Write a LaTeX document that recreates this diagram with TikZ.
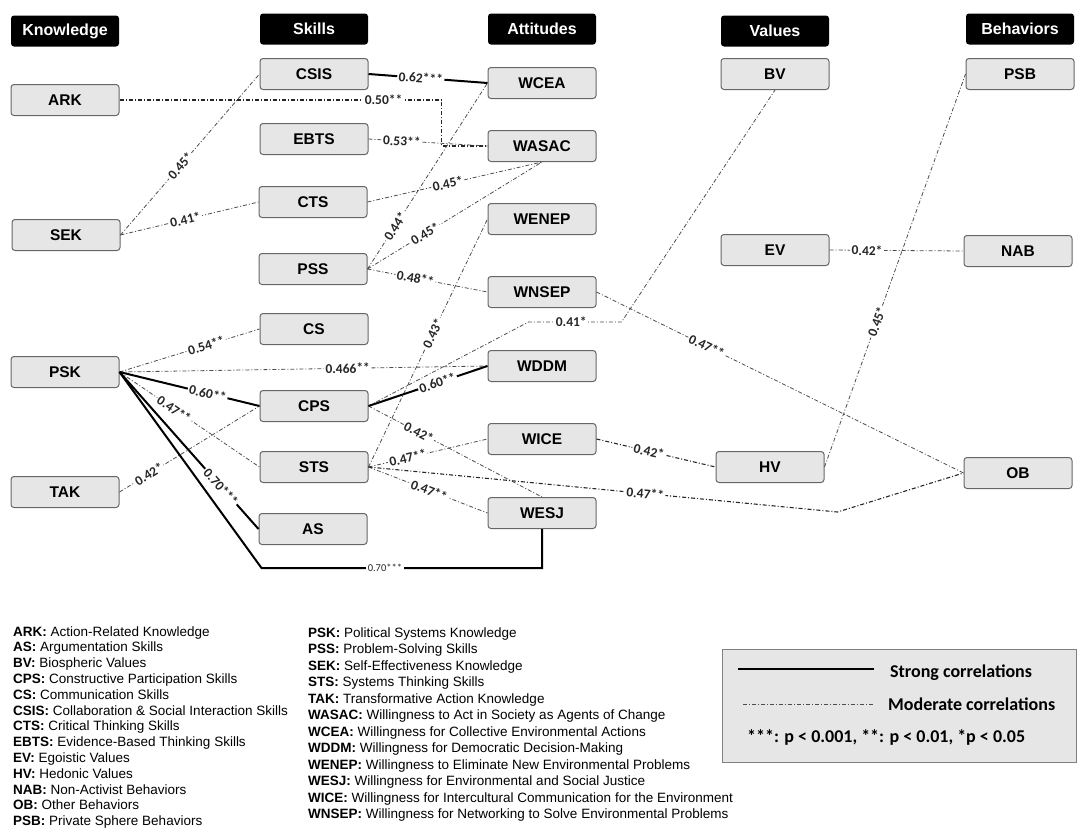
\documentclass[tikz,border=0pt]{standalone}
\usepackage{fontspec}
\setmainfont{Liberation Sans}
\newfontfamily\calib{Carlito}
\usepackage{xcolor}
\definecolor{boxgray}{HTML}{E6E6E6}

\begin{document}
\begin{tikzpicture}[
x=1pt,y=-1pt,
hdr/.style={rectangle, rounded corners=3pt, fill=black, text=white, minimum width=108pt, minimum height=31pt, font=\bfseries\fontsize{16}{18}\selectfont},
var/.style={rectangle, rounded corners=3pt, draw=gray!80!black, fill=boxgray, line width=1pt, minimum width=108pt, minimum height=31pt, font=\bfseries\fontsize{15.5}{17}\selectfont},
strong/.style={line width=2pt, black},
moderate/.style={line width=0.8pt, gray!60!black, dash pattern=on 4pt off 2pt on 1pt off 2pt},
modbold/.style={moderate, line width=1.1pt, gray!30!black},
corr/.style={font=\calib\bfseries\fontsize{13.5}{15}\selectfont, text=black!85, fill=white, inner sep=1.5pt, sloped},
gloss/.style={anchor=base west, inner sep=0pt, font=\fontsize{13.5}{15}\selectfont},
keytext/.style={anchor=base west, inner sep=0pt, font=\calib\bfseries\fontsize{18}{20}\selectfont},
]
\useasboundingbox (0,0) rectangle (1078,836);

%group headers
\node(hK)[hdr] at (65,31){Knowledge};
\node(hS)[hdr] at (314,29){Skills};
\node(hA)[hdr] at (542,29){Attitudes};
\node(hV)[hdr] at (775,31){Values};
\node(hB)[hdr] at (1020,29){Behaviors};

%knowledge
\node(ARK)[var] at (65,100){ARK};
\node(SEK)[var] at (66,235){SEK};
\node(PSK)[var] at (65,372){PSK};
\node(TAK)[var] at (65,492){TAK};
%skills
\node(CSIS)[var] at (314,74){CSIS};
\node(EBTS)[var] at (314,139){EBTS};
\node(CTS)[var]  at (313,202){CTS};
\node(PSS)[var]  at (313,269){PSS};
\node(CS)[var]   at (314,329){CS};
\node(CPS)[var]  at (314,406){CPS};
\node(STS)[var]  at (314,467){STS};
\node(AS)[var]   at (313,529){AS};
%attitudes
\node(WCEA)[var]  at (542,83){WCEA};
\node(WASAC)[var] at (542,146){WASAC};
\node(WENEP)[var] at (542,219){WENEP};
\node(WNSEP)[var] at (542,292){WNSEP};
\node(WDDM)[var]  at (542,366){WDDM};
\node(WICE)[var]  at (542,439){WICE};
\node(WESJ)[var]  at (542,513){WESJ};
%values
\node(BV)[var] at (775,74){BV};
\node(EV)[var] at (775,250){EV};
\node(HV)[var] at (770,467){HV};
%behaviors
\node(PSB)[var] at (1020,74){PSB};
\node(NAB)[var] at (1018,251){NAB};
\node(OB)[var]  at (1018,473){OB};

%moderate correlations
\draw[modbold] (ARK.east) -- node[corr,pos=0.82]{0.50**} ++(322,0) |- (WASAC.west);
\draw[moderate] (EBTS.east) -- node[corr,pos=0.28]{0.53**} (WASAC.west);
\draw[moderate] (SEK.east) -- node[corr,pos=0.43]{0.45*} (CSIS.west);
\draw[moderate] (SEK.east) -- node[corr,pos=0.47]{0.41*} (CTS.west);
\draw[moderate] (CTS.east) -- node[corr,pos=0.46]{0.45*} (WASAC.south);
\draw[moderate] (PSS.east) -- node[corr,pos=0.33]{0.45*} (WASAC.south);
\draw[moderate] (PSS.east) -- node[corr,pos=0.23]{0.44*} (WCEA.west);
\draw[moderate] (PSS.east) -- node[corr,pos=0.40]{0.48**} (WNSEP.west);
\draw[moderate] (STS.east) -- node[corr,pos=0.54]{0.43*} (WENEP.west);
\draw[moderate] (PSK.east) -- node[corr,pos=0.62]{0.54**} (CS.west);
\draw[moderate] (PSK.east) -- node[corr,pos=0.62]{0.466**} (WDDM.west);
\draw[moderate] (PSK.east) -- node[corr,pos=0.39]{0.47**} (STS.west);
\draw[moderate] (TAK.east) -- node[corr,pos=0.21]{0.42*} (CPS.west);
\draw[moderate] (CPS.east) -- ++(160,-84) -- node[corr,pos=0.46]{0.41*} ++(93,0) -- (BV.south);
\draw[moderate] (CPS.east) -- node[corr,pos=0.29]{0.42*} (WESJ.north);
\draw[moderate] (STS.east) -- node[corr,pos=0.33]{0.47**} (WICE.west);
\draw[moderate] (STS.east) -- node[corr,pos=0.51]{0.47**} (WESJ.west);
\draw[modbold] (STS.east) -- node[corr,pos=0.59]{0.47**} ++(469,45) -- (OB.west);
\draw[modbold] (WICE.east) -- node[corr,pos=0.44]{0.42*} (HV.west);
\draw[moderate] (WNSEP.east) -- node[corr,pos=0.30]{0.47**} (OB.west);
\draw[moderate] (HV.east) -- node[corr,pos=0.37]{0.45*} (PSB.west);
\draw[moderate] (EV.east) -- node[corr,pos=0.28]{0.42*} (NAB.west);

%strong correlations
\draw[strong] (CSIS.east) -- node[corr,pos=0.44]{0.62***} (WCEA.west);
\draw[strong] (PSK.east) -- node[corr,pos=0.63]{0.60**} (CPS.west);
\draw[strong] (PSK.east) -- node[corr,pos=0.73]{0.70***} (AS.west);
\draw[strong] (CPS.east) -- node[corr,pos=0.58]{0.60**} (WDDM.west);
\draw[strong] (PSK.east) -- ++(142,196) -| node[corr,pos=0.22,font=\calib\fontsize{10.5}{12}\selectfont]{0.70***} (WESJ.south);

%glossary
\foreach \ab/\txt [count=\i from 0] in {ARK/Action-Related Knowledge, AS/Argumentation Skills, BV/Biospheric Values, CPS/Constructive Participation Skills, CS/Communication Skills, CSIS/Collaboration \& Social Interaction Skills, CTS/Critical Thinking Skills, EBTS/Evidence-Based Thinking Skills, EV/Egoistic Values, HV/Hedonic Values, NAB/Non-Activist Behaviors, OB/Other Behaviors, PSB/Private Sphere Behaviors}
  \node(gl\ab)[gloss] at (13,636+15.8*\i){\textbf{\ab:} \txt};
\foreach \ab/\txt [count=\i from 0] in {PSK/Political Systems Knowledge, PSS/Problem-Solving Skills, SEK/Self-Effectiveness Knowledge, STS/Systems Thinking Skills, TAK/Transformative Action Knowledge, WASAC/Willingness to Act in Society as Agents of Change, WCEA/Willingness for Collective Environmental Actions, WDDM/Willingness for Democratic Decision-Making, WENEP/Willingness to Eliminate New Environmental Problems, WESJ/Willingness for Environmental and Social Justice, WICE/Willingness for Intercultural Communication for the Environment, WNSEP/Willingness for Networking to Solve Environmental Problems}
  \node(gr\ab)[gloss] at (308,637+16.5*\i){\textbf{\ab:} \txt};

%legend
\node(key)[rectangle, draw=gray, fill=boxgray, line width=1pt, minimum width=354pt, minimum height=113pt] at (899,705.5){};
\draw[line width=1.5pt] (738,669) -- (874,669);
\draw[moderate] (743,704) -- (874,704);
\node(k1)[keytext] at (890,677){Strong correlations};
\node(k2)[keytext] at (888,710){Moderate correlations};
\node(k3)[keytext] at (747,742){***: p < 0.001, **: p < 0.01, *p < 0.05};

\end{tikzpicture}
\end{document}
